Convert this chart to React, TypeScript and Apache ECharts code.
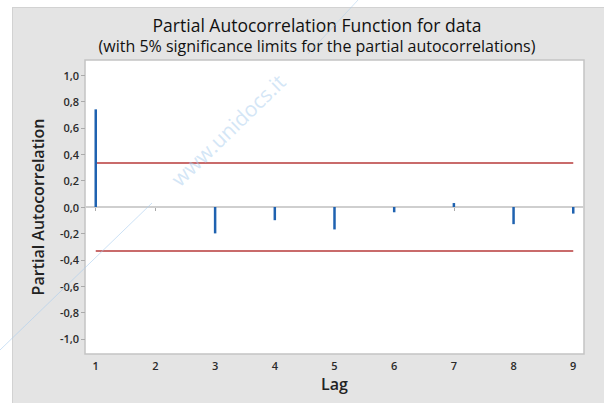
import React, { useEffect, useRef } from "react";
import * as echarts from "echarts";

const lags = [1, 2, 3, 4, 5, 6, 7, 8, 9];
const pacf = [0.74, 0.0, -0.2, -0.1, -0.17, -0.04, 0.03, -0.13, -0.05];
const upperLimit = 0.333;
const lowerLimit = -0.333;
const yTicks = [-1, -0.8, -0.6, -0.4, -0.2, 0, 0.2, 0.4, 0.6, 0.8, 1];
const xTicks = [1, 2, 3, 4, 5, 6, 7, 8, 9];

const FONT = "'Open Sans', 'Noto Sans', sans-serif";

export default function App() {
  const ref = useRef<HTMLDivElement>(null);

  useEffect(() => {
    if (!ref.current) return;
    const chart = echarts.init(ref.current, null, { renderer: "svg" });
    const option: any = {
      animation: false,
      backgroundColor: "transparent",
      title: [
        {
          text: "Partial Autocorrelation Function for data",
          left: 312,
          top: 11,
          textAlign: "center",
          textStyle: { fontFamily: FONT, fontSize: 17.5, fontWeight: "normal", color: "#111" },
        },
        {
          text: "(with 5% significance limits for the partial autocorrelations)",
          left: 312,
          top: 33,
          textAlign: "center",
          textStyle: { fontFamily: FONT, fontSize: 16, fontWeight: "normal", color: "#111" },
        },
      ],
      grid: {
        left: 85,
        top: 60,
        width: 499,
        height: 294,
        show: true,
        backgroundColor: "#ffffff",
        borderColor: "#c4c4c4",
        borderWidth: 1.5,
      },
      xAxis: {
        type: "value",
        min: 0.82,
        max: 9.18,
        name: "Lag",
        nameLocation: "middle",
        nameGap: 22,
        nameTextStyle: { fontFamily: FONT, fontSize: 16, fontWeight: 600, color: "#222" },
        axisLine: { show: false },
        splitLine: { show: false },
        axisTick: { show: true, customValues: xTicks, length: 4, lineStyle: { color: "#aaa" } },
        axisLabel: {
          customValues: xTicks,
          fontFamily: FONT,
          fontSize: 11,
          fontWeight: 600,
          color: "#2a2a2a",
          margin: 6,
          formatter: (v: number) => String(Math.round(v)),
        },
      },
      yAxis: {
        type: "value",
        min: -1.114,
        max: 1.114,
        name: "Partial Autocorrelation",
        nameLocation: "middle",
        nameGap: 39,
        nameTextStyle: { fontFamily: FONT, fontSize: 16, fontWeight: 600, color: "#222" },
        axisLine: { show: false },
        splitLine: { show: false },
        axisTick: { show: true, customValues: yTicks, length: 4, lineStyle: { color: "#aaa" } },
        axisLabel: {
          customValues: yTicks,
          fontFamily: FONT,
          fontSize: 11,
          fontWeight: 600,
          color: "#2a2a2a",
          margin: 6,
          formatter: (v: number) => v.toFixed(1).replace(".", ","),
        },
      },
      series: [
        {
          type: "line",
          data: [
            [0.82, 0],
            [9.18, 0],
          ],
          symbol: "none",
          lineStyle: { color: "#cfcfcf", width: 2 },
          z: 1,
        },
        {
          type: "line",
          data: [
            [lags[0], upperLimit],
            [lags[lags.length - 1], upperLimit],
          ],
          symbol: "none",
          lineStyle: { color: "#c96b6b", width: 2 },
          z: 2,
        },
        {
          type: "line",
          data: [
            [lags[0], lowerLimit],
            [lags[lags.length - 1], lowerLimit],
          ],
          symbol: "none",
          lineStyle: { color: "#c96b6b", width: 2 },
          z: 2,
        },
        {
          type: "custom",
          data: lags.map((l, i) => [l, pacf[i]]),
          z: 3,
          renderItem: (params: any, api: any) => {
            const x = api.value(0);
            const y = api.value(1);
            const p0 = api.coord([x, 0]);
            const p1 = api.coord([x, y]);
            return {
              type: "line",
              shape: { x1: p0[0], y1: p0[1], x2: p1[0], y2: p1[1] },
              style: { stroke: "#1f62b0", lineWidth: 2.5 },
            };
          },
        },
      ],
      graphic: [
        {
          type: "text",
          x: 228,
          y: 130,
          rotation: 0.77,
          z: 100,
          style: {
            text: "www.unidocs.it",
            fill: "rgba(170,205,238,0.5)",
            font: "21px " + FONT,
            textAlign: "center",
            textVerticalAlign: "middle",
          },
        },
        {
          type: "line",
          z: 100,
          shape: { x1: 0, y1: 350, x2: 152, y2: 203 },
          style: { stroke: "rgba(170,205,238,0.6)", lineWidth: 1 },
        },
        {
          type: "line",
          z: 100,
          shape: { x1: 308, y1: 54, x2: 358, y2: 0 },
          style: { stroke: "rgba(170,205,238,0.5)", lineWidth: 1 },
        },
      ],
    };
    chart.setOption(option);
    return () => chart.dispose();
  }, []);

  return (
    <div style={{ position: "absolute", left: 0, top: 0, width: 604, height: 403, background: "#fff" }}>
      <div
        style={{
          position: "absolute",
          left: 12,
          top: 7,
          right: 0,
          bottom: 0,
          background: "#e4e4e4",
          borderLeft: "1px solid #d2d2d2",
          borderTop: "1px solid #d2d2d2",
        }}
      />
      <div ref={ref} style={{ position: "absolute", left: 0, top: 0, width: 604, height: 403 }} />
    </div>
  );
}
